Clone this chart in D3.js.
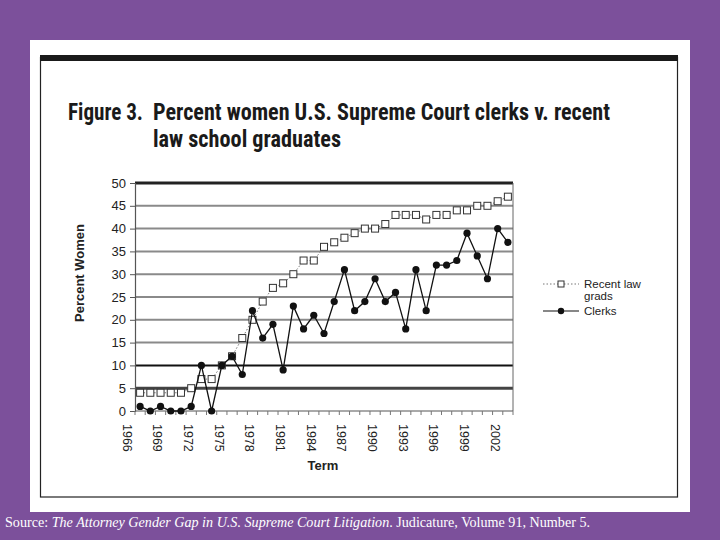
<!DOCTYPE html>
<html><head><meta charset="utf-8">
<script src="https://cdn.jsdelivr.net/npm/d3@7"></script>
<style>body{margin:0;background:#7c509b;}svg{display:block;}</style>
</head><body>
<svg id="c" width="720" height="540"></svg>
<script>
const years = d3.range(1966, 2003);
const gradsPct = [4,4,4,4,4,5,7,7,10,12,16,20,24,27,28,30,33,33,36,37,38,39,40,40,41,43,43,43,42,43,43,44,44,45,45,46,47];
const clerksPct = [1,0,1,0,0,1,10,0,10,12,8,22,16,19,9,23,18,21,17,24,31,22,24,29,24,26,18,31,22,32,32,33,39,34,29,40,37];
const yTicks = [0,5,10,15,20,25,30,35,40,45,50];
const xLabelYears = [1966,1969,1972,1975,1978,1981,1984,1987,1990,1993,1996,1999,2002];
const titleLead = "Figure 3.";
const titleLines = ["Percent women U.S. Supreme Court clerks v. recent", "law school graduates"];
const seriesNames = ["Recent law", "grads", "Clerks"];

const svg = d3.select("#c");
svg.append("rect").attr("width",720).attr("height",540).attr("fill","#7c509b");
svg.append("rect").attr("x",30).attr("y",40).attr("width",660).attr("height",472).attr("fill","#fff");
svg.append("rect").attr("x",40.5).attr("y",57.5).attr("width",637).attr("height",439.5).attr("fill","none").attr("stroke","#222").attr("stroke-width",1.2);
svg.append("rect").attr("x",40).attr("y",55).attr("width",638).attr("height",6).attr("fill","#1a1a1a");

const tf = "'Liberation Sans Narrow','Arial Narrow','Roboto Condensed','Liberation Sans',Arial,sans-serif";
svg.append("text").attr("x",68).attr("y",120).attr("font-family",tf).attr("font-weight","bold").attr("font-size",23)
  .attr("fill","#1a1a1a").attr("textLength",75).attr("lengthAdjust","spacingAndGlyphs").text(titleLead);
svg.append("text").attr("x",153).attr("y",120).attr("font-family",tf).attr("font-weight","bold").attr("font-size",23)
  .attr("fill","#1a1a1a").attr("textLength",457).attr("lengthAdjust","spacingAndGlyphs").text(titleLines[0]);
svg.append("text").attr("x",153).attr("y",147).attr("font-family",tf).attr("font-weight","bold").attr("font-size",23)
  .attr("fill","#1a1a1a").attr("textLength",188).attr("lengthAdjust","spacingAndGlyphs").text(titleLines[1]);

const L=135, R=513, T=183, B=411;
const x = d3.scaleBand().domain(years).range([L,R]);
const cx = d => x(d) + x.bandwidth()/2;
const y = d3.scaleLinear().domain([0,50]).range([B,T]);
const af = "'Liberation Sans',Arial,sans-serif";

// gridlines
yTicks.filter(t=>t>0).forEach(t=>{
  let col="#8a8a8a", w=2;
  if(t===50){col="#222";w=3;}
  if(t===10){col="#111";w=2;}
  if(t===5){col="#444";w=3;}
  svg.append("line").attr("x1",L).attr("x2",R).attr("y1",y(t)).attr("y2",y(t)).attr("stroke",col).attr("stroke-width",w);
});
// right border
svg.append("line").attr("x1",R).attr("x2",R).attr("y1",T).attr("y2",B).attr("stroke","#666").attr("stroke-width",1);

// y axis
const yAxis = svg.append("g").attr("transform",`translate(${L},0)`)
  .call(d3.axisLeft(y).tickValues(yTicks).tickSize(5).tickPadding(4));
yAxis.select(".domain").attr("stroke","#555").attr("stroke-width",1.2);
yAxis.selectAll(".tick line").attr("stroke","#555");
yAxis.selectAll("text").attr("font-family",af).attr("font-size",13).attr("fill","#222");

// x axis
svg.append("line").attr("x1",L).attr("x2",R).attr("y1",B).attr("y2",B).attr("stroke","#555").attr("stroke-width",1.2);
svg.append("g").selectAll("line").data(years.concat([2003])).join("line")
  .attr("x1",d=>d<2003?x(d):R).attr("x2",d=>d<2003?x(d):R).attr("y1",B).attr("y2",B+4)
  .attr("stroke","#777").attr("stroke-width",1);
svg.append("g").selectAll("text").data(xLabelYears).join("text")
  .attr("transform",d=>`translate(${cx(d)-13},${424}) rotate(90)`)
  .attr("dy","0.35em").attr("font-family",af).attr("font-size",12.5).attr("fill","#222").text(d=>d);

svg.append("text").attr("x",323).attr("y",470).attr("text-anchor","middle").attr("font-family",af)
  .attr("font-weight","bold").attr("font-size",13).attr("fill","#222").text("Term");
svg.append("text").attr("transform","translate(84,273) rotate(-90)").attr("text-anchor","middle").attr("font-family",af)
  .attr("font-weight","bold").attr("font-size",13).attr("fill","#222").text("Percent Women");

// grads series
const line = d3.line().x((d,i)=>cx(years[i])).y(d=>y(d));
svg.append("path").attr("d",line(gradsPct)).attr("fill","none").attr("stroke","#777").attr("stroke-width",1).attr("stroke-dasharray","1.5,2");
svg.append("g").selectAll("rect").data(gradsPct).join("rect")
  .attr("x",(d,i)=>cx(years[i])-3.5).attr("y",d=>y(d)-3.5).attr("width",7).attr("height",7)
  .attr("fill","#fff").attr("stroke","#333").attr("stroke-width",1);

// clerks series
svg.append("path").attr("d",line(clerksPct)).attr("fill","none").attr("stroke","#111").attr("stroke-width",1.3);
svg.append("g").selectAll("circle").data(clerksPct).join("circle")
  .attr("cx",(d,i)=>cx(years[i])).attr("cy",d=>y(d)).attr("r",3.6).attr("fill","#111");

// legend
const lg = svg.append("g").attr("font-family",af).attr("font-size",11.5).attr("fill","#222");
lg.append("line").attr("x1",543).attr("x2",579).attr("y1",284).attr("y2",284).attr("stroke","#777").attr("stroke-dasharray","1.5,2");
lg.append("rect").attr("x",558).attr("y",281).attr("width",6).attr("height",6).attr("fill","#fff").attr("stroke","#333");
lg.append("text").attr("x",584).attr("y",288).text(seriesNames[0]);
lg.append("text").attr("x",584).attr("y",300).text(seriesNames[1]);
lg.append("line").attr("x1",543).attr("x2",579).attr("y1",311).attr("y2",311).attr("stroke","#111").attr("stroke-width",1.2);
lg.append("circle").attr("cx",561).attr("cy",311).attr("r",3.2).attr("fill","#111");
lg.append("text").attr("x",584).attr("y",315).text(seriesNames[2]);

// source
const src = svg.append("text").attr("x",5).attr("y",527).attr("font-family","'Liberation Serif','Times New Roman',serif")
  .attr("font-size",14).attr("fill","#fff").attr("textLength",585).attr("lengthAdjust","spacingAndGlyphs");
src.append("tspan").text("Source: ");
src.append("tspan").attr("font-style","italic").text("The Attorney Gender Gap in U.S. Supreme Court Litigation");
src.append("tspan").text(". Judicature, Volume 91, Number 5.");
</script>
</body></html>
